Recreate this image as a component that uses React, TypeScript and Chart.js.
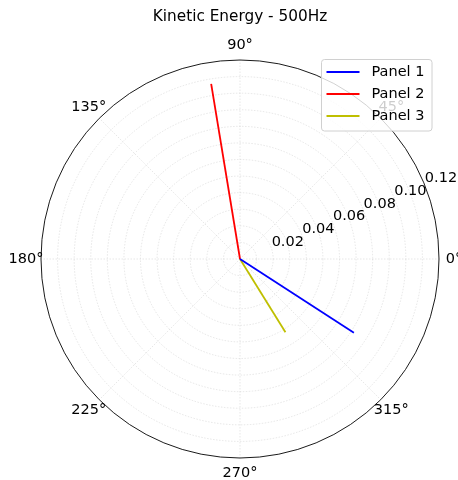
import React, { useEffect, useRef } from "react";
import { Chart, registerables } from "chart.js";

Chart.register(...registerables);

const title = "Kinetic Energy - 500Hz";
const panels = ["Panel 1", "Panel 2", "Panel 3"];
const anglesDeg = [327.1, 99.35, 301.8];
const energies = [0.0818, 0.107, 0.052];
const colors = ["#0000ff", "#ff0000", "#bfbf00"];
const rMax = 0.12;
const gridRadii = [0.01, 0.02, 0.03, 0.04, 0.05, 0.06, 0.07, 0.08, 0.09, 0.1, 0.11];
const radialTicks = [0.02, 0.04, 0.06, 0.08, 0.1, 0.12];
const radialTickLabels = ["0.02", "0.04", "0.06", "0.08", "0.10", "0.12"];
const angleTicks = [0, 45, 90, 135, 180, 225, 270, 315];

const FONT = '"DejaVu Sans", sans-serif';

const polarPlugin = {
  id: "polarGrid",
  beforeDatasetsDraw(chart: any) {
    const { ctx } = chart;
    const xs = chart.scales.x;
    const ys = chart.scales.y;
    const cx = xs.getPixelForValue(0);
    const cy = ys.getPixelForValue(0);
    const pr = (r: number) => xs.getPixelForValue(r) - cx;
    ctx.save();
    ctx.strokeStyle = "rgba(200,200,200,0.55)";
    ctx.lineWidth = 0.8;
    ctx.setLineDash([1.5, 1.5]);
    gridRadii.forEach((r) => {
      ctx.beginPath();
      ctx.arc(cx, cy, pr(r), 0, Math.PI * 2);
      ctx.stroke();
    });
    angleTicks.forEach((a) => {
      const t = (a * Math.PI) / 180;
      ctx.beginPath();
      ctx.moveTo(cx, cy);
      ctx.lineTo(cx + pr(rMax) * Math.cos(t), cy - pr(rMax) * Math.sin(t));
      ctx.stroke();
    });
    ctx.setLineDash([]);
    ctx.strokeStyle = "#000";
    ctx.lineWidth = 0.9;
    ctx.beginPath();
    ctx.arc(cx, cy, pr(rMax), 0, Math.PI * 2);
    ctx.stroke();
    ctx.restore();
  },
  afterDatasetsDraw(chart: any) {
    const { ctx } = chart;
    const xs = chart.scales.x;
    const ys = chart.scales.y;
    const cx = xs.getPixelForValue(0);
    const cy = ys.getPixelForValue(0);
    const pr = (r: number) => xs.getPixelForValue(r) - cx;
    const R = pr(rMax);
    ctx.save();
    ctx.fillStyle = "#000";
    ctx.font = `14.5px ${FONT}`;
    // angle labels
    ctx.textAlign = "center";
    ctx.textBaseline = "middle";
    angleTicks.forEach((a) => {
      const t = (a * Math.PI) / 180;
      const rr = R + 15;
      ctx.fillText(`${a}°`, cx + rr * Math.cos(t), cy - rr * Math.sin(t));
    });
    // radial labels
    ctx.textAlign = "left";
    ctx.textBaseline = "bottom";
    const t0 = (22.5 * Math.PI) / 180;
    radialTicks.forEach((r, i) => {
      const p = pr(r);
      ctx.fillText(radialTickLabels[i], cx + p * Math.cos(t0) + 1, cy - p * Math.sin(t0) + 3);
    });
    // title
    ctx.textAlign = "center";
    ctx.textBaseline = "middle";
    ctx.font = `15.3px ${FONT}`;
    ctx.fillText(title, cx, cy - R - 43);
    // legend
    ctx.font = `14.5px ${FONT}`;
    const lx = cx + 81.5;
    const ly = cy - R - 0.5;
    const lw = 110.5;
    const lh = 71.5;
    ctx.beginPath();
    if (ctx.roundRect) ctx.roundRect(lx, ly, lw, lh, 3);
    else ctx.rect(lx, ly, lw, lh);
    ctx.fillStyle = "rgba(255,255,255,0.8)";
    ctx.fill();
    ctx.strokeStyle = "#d0d0d0";
    ctx.lineWidth = 1;
    ctx.stroke();
    ctx.textAlign = "left";
    ctx.textBaseline = "middle";
    panels.forEach((name, i) => {
      const y = ly + 12.5 + i * 22;
      ctx.strokeStyle = colors[i];
      ctx.lineWidth = 1.8;
      ctx.beginPath();
      ctx.moveTo(lx + 5, y);
      ctx.lineTo(lx + 38, y);
      ctx.stroke();
      ctx.fillStyle = "#000";
      ctx.fillText(name, lx + 50, y + 0.5);
    });
    ctx.restore();
  },
};

export default function App() {
  const ref = useRef<HTMLCanvasElement | null>(null);
  useEffect(() => {
    if (!ref.current) return;
    const datasets = panels.map((name, i) => {
      const t = (anglesDeg[i] * Math.PI) / 180;
      return {
        label: name,
        data: [
          { x: 0, y: 0 },
          { x: energies[i] * Math.cos(t), y: energies[i] * Math.sin(t) },
        ],
        showLine: true,
        borderColor: colors[i],
        backgroundColor: colors[i],
        borderWidth: 1.8,
        pointRadius: 0,
        fill: false,
      };
    });
    const chart = new Chart(ref.current, {
      type: "scatter",
      data: { datasets },
      options: {
        animation: false,
        responsive: true,
        maintainAspectRatio: false,
        layout: { padding: { left: 41, right: 19, top: 60, bottom: 22 } },
        scales: {
          x: { type: "linear", min: -rMax, max: rMax, display: false },
          y: { type: "linear", min: -rMax, max: rMax, display: false },
        },
        plugins: {
          legend: { display: false },
          title: { display: false },
          tooltip: { enabled: false },
        },
      },
      plugins: [polarPlugin],
    });
    return () => chart.destroy();
  }, []);
  return (
    <div style={{ position: "absolute", left: 0, top: 0, width: 458, height: 480 }}>
      <canvas ref={ref} />
    </div>
  );
}
